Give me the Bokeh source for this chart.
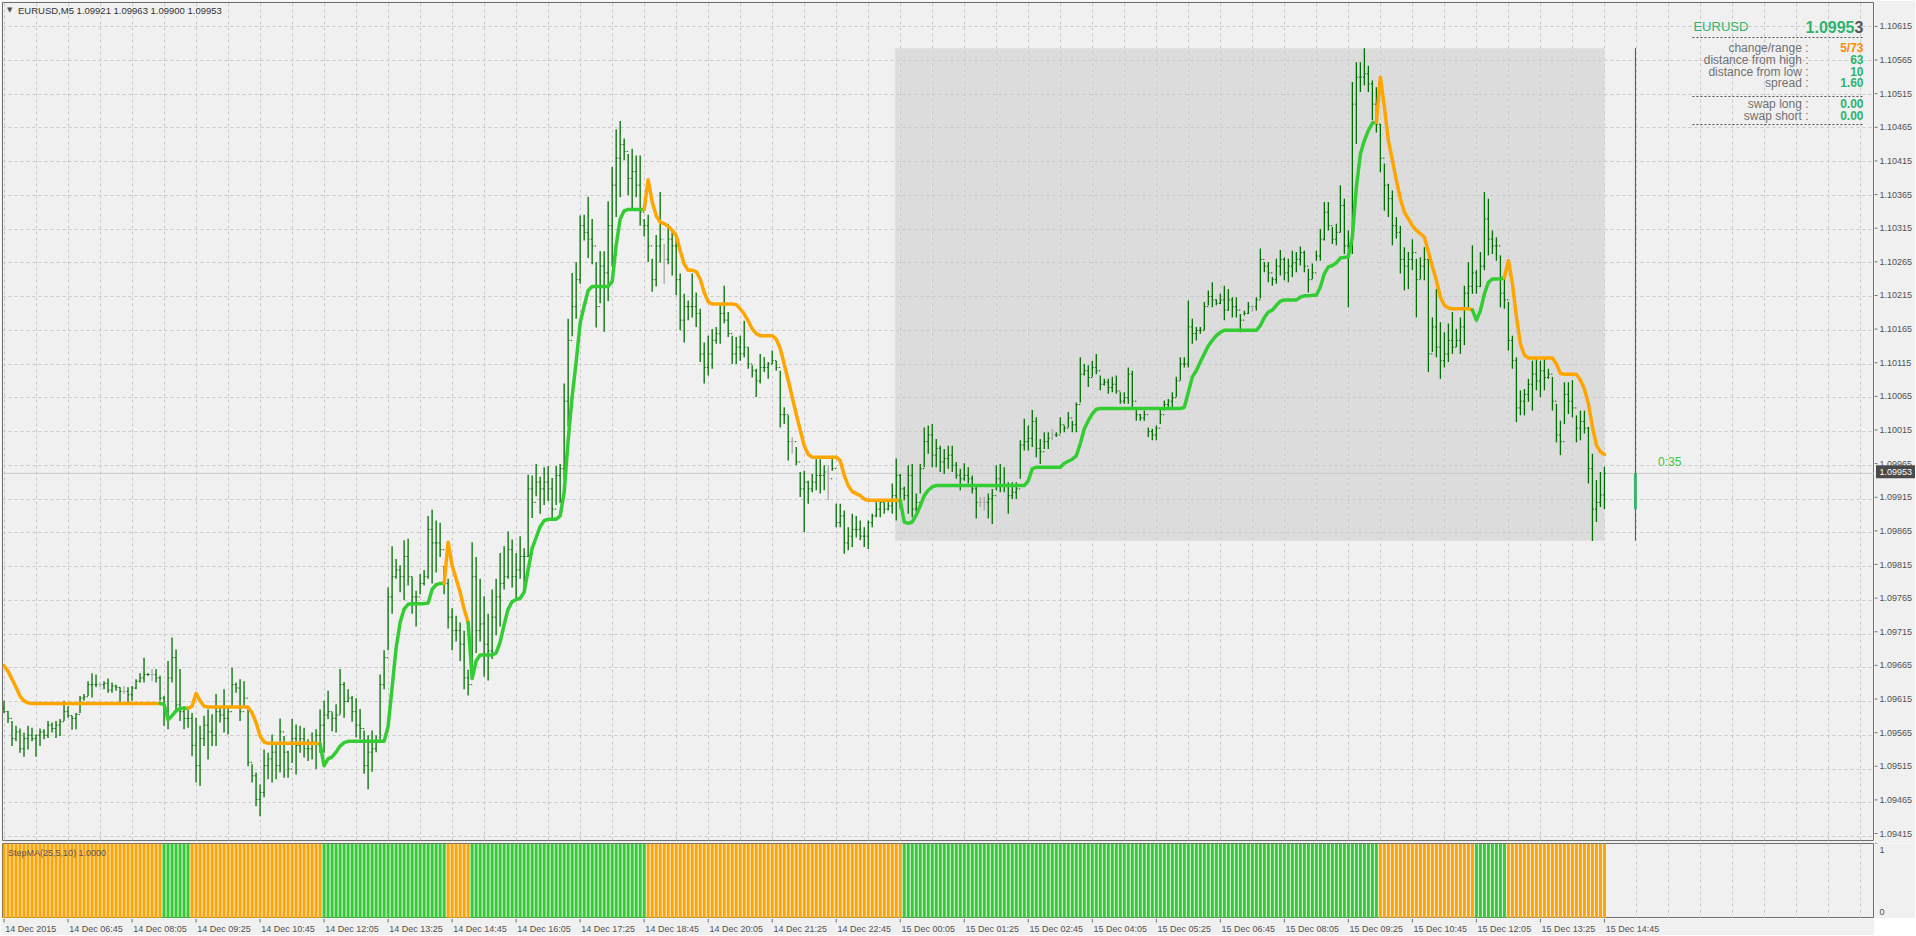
from bokeh.plotting import figure
from bokeh.models import Range1d, FixedTicker, Label, Span, ColumnDataSource
from bokeh.layouts import column, row
from bokeh.embed import file_html
from bokeh.resources import INLINE
from bokeh.core.properties import value

# ---------------- data (prices in points above 1.09000) ----------------
BASE = 1.09
symbol = "EURUSD"
timeframe = "M5"
indicator_name = "StepMA(25,5,10) 1.0000"

bar_high = [
616,601,586,579,575,569,579,576,566,575, 574,586,584,586,589,616,608,594,598,623,
626,645,657,655,643,645,649,643,640,636, 638,636,638,648,657,680,657,663,663,653,
623,675,710,692,663,608,606,598,591,579, 594,603,596,626,608,633,608,665,643,648,
645,608,522,510,492,544,539,566,554,590, 564,542,589,581,579,576,559,569,574,603,
616,631,599,611,663,644,633,623,620,604, 572,565,572,565,655,691,784,845,826,817,
854,856,800,779,804,810,890,899,883,880, 816,797,753,742,732,720,662,851,829,797,
771,745,781,797,835,845,867,855,835,860, 842,951,950,967,948,962,964,946,964,967,
1086,1182,1250,1266,1335,1336,1363,1330,1266,1282, 1282,1356,1407,1463,1475,1449,1426,1434,1424,1424,
1330,1336,1271,1306,1370,1293,1323,1310,1303,1249, 1219,1209,1249,1221,1197,1147,1157,1167,1170,1204,
1231,1192,1157,1155,1157,1179,1140,1113,1108,1130, 1125,1118,1135,1120,1105,1051,1039,1007,992,955,
957,942,952,974,974,965,965,979,908,908, 898,873,893,890,883,873,883,893,913,915,
910,913,938,975,952,933,965,967,923,967, 1021,1024,1026,1004,994,989,994,994,970,960,
968,962,950,933,918,918,923,930,965,967, 962,940,940,940,1002,1034,1024,1047,1036,1004,
1014,1014,1019,1014,1036,1024,1044,1031,1058,1125, 1115,1113,1120,1130,1098,1093,1093,1096,1098,1073,
1073,1110,1105,1049,1041,1046,1021,1019,1024,1049, 1061,1063,1073,1096,1125,1125,1209,1182,1170,1170,
1207,1224,1236,1211,1219,1231,1226,1214,1214,1189, 1194,1207,1202,1214,1286,1266,1266,1244,1271,1284,
1273,1271,1283,1281,1289,1283,1256,1264,1283,1315, 1355,1355,1318,1323,1380,1360,1313,1533,1562,1562,
1583,1557,1535,1525,1471,1412,1382,1372,1333,1320, 1288,1281,1300,1271,1273,1288,1271,1184,1226,1177,
1162,1175,1192,1167,1184,1231,1266,1291,1254,1281, 1370,1360,1313,1303,1276,1244,1207,1157,1125,1076,
1078,1093,1120,1125,1120,1123,1108,1096,1056,1031, 1088,1088,1091,1039,1046,1046,1022,982,943,955,
963]

bar_low = [
598,583,549,556,539,533,544,556,533,549, 559,561,569,561,564,586,591,573,574,598,
616,623,621,636,636,633,628,628,631,613, 626,613,616,633,643,643,653,645,643,616,
579,574,643,598,586,574,576,534,495,490, 549,529,549,549,584,569,566,608,628,586,
608,519,495,460,445,473,500,495,500,510, 502,502,524,507,539,532,527,529,515,539,
539,589,571,569,596,591,614,585,562,559, 508,485,511,540,556,633,691,745,797,777,
765,787,745,726,774,787,797,790,806,829, 774,723,691,704,675,633,624,649,687,704,
652,646,678,713,726,781,797,784,765,797, 777,829,887,919,893,906,912,883,906,909,
944,1022,1156,1182,1234,1298,1272,1263,1169,1205, 1163,1208,1259,1333,1362,1417,1365,1346,1362,1320,
1304,1266,1222,1230,1265,1234,1263,1246,1217,1165, 1147,1180,1184,1170,1118,1086,1098,1108,1145,1145,
1175,1155,1115,1115,1120,1125,1108,1095,1066,1086, 1103,1093,1115,1105,1021,1026,972,982,965,918,
866,908,925,928,923,928,913,957,873,873, 834,839,844,858,854,844,841,873,888,888,
893,898,893,883,900,913,893,888,896,923, 962,982,962,962,955,952,960,955,945,928,
942,938,923,886,903,898,886,878,928,925, 925,893,915,915,945,987,987,992,977,967,
989,989,1002,1007,1012,1014,1021,1014,1014,1058, 1098,1081,1096,1100,1076,1083,1071,1073,1071,1056,
1056,1056,1051,1031,1031,1031,1007,1002,1002,1026, 1046,1051,1051,1066,1091,1110,1110,1145,1150,1160,
1165,1202,1199,1202,1204,1180,1194,1184,1184,1162, 1187,1189,1192,1194,1212,1251,1236,1231,1234,1246,
1239,1236,1244,1251,1261,1251,1221,1241,1268,1268, 1298,1313,1293,1291,1310,1278,1199,1278,1441,1518,
1528,1518,1476,1458,1399,1342,1333,1291,1301,1249, 1224,1226,1254,1184,1241,1239,1103,1133,1125,1093,
1110,1118,1130,1140,1130,1143,1199,1219,1219,1229, 1254,1276,1278,1268,1199,1197,1135,1108,1029,1039,
1039,1059,1046,1076,1066,1076,1093,1046,999,980, 1026,1041,1036,999,1002,1012,938,853,881,903,
900]

bar_close = [
600,590,560,570,545,560,565,560,565,570, 565,580,575,580,585,600,594,590,596,620,
622,640,640,640,640,642,632,638,636,630, 630,625,635,645,650,655,655,655,650,620,
600,650,680,610,600,590,590,550,520,560, 580,570,565,600,595,590,600,640,635,600,
620,525,505,470,480,520,530,540,520,570, 540,515,560,550,560,545,545,555,565,580,
595,600,590,595,640,615,620,600,580,575, 520,540,545,555,640,680,770,800,810,800,
830,800,770,770,790,800,870,850,850,840, 790,740,720,720,700,650,640,800,720,730,
700,690,740,770,790,800,840,800,810,830, 830,930,910,940,930,940,930,900,950,960,
1060,1150,1200,1240,1320,1310,1300,1290,1200,1260, 1250,1320,1380,1420,1440,1430,1390,1400,1380,1340,
1320,1290,1240,1290,1300,1270,1300,1290,1240,1180, 1200,1200,1200,1190,1130,1110,1130,1150,1160,1190,
1180,1160,1130,1140,1130,1140,1115,1105,1090,1110, 1110,1115,1120,1110,1040,1040,1000,1000,970,930,
940,930,940,950,950,955,945,960,880,890, 850,860,870,870,860,860,880,890,900,910,
900,905,920,950,930,920,950,900,910,960, 1000,1010,980,990,970,975,980,965,950,945,
950,945,930,910,910,910,915,920,945,935, 935,920,925,930,995,1000,1005,1030,990,985,
1000,1005,1010,1010,1025,1020,1035,1025,1055,1100, 1105,1095,1110,1105,1085,1088,1080,1085,1075,1060,
1065,1100,1060,1040,1035,1040,1015,1010,1020,1040, 1055,1060,1065,1090,1115,1115,1170,1160,1165,1165,
1200,1215,1210,1205,1210,1195,1210,1200,1195,1180, 1190,1200,1200,1210,1270,1260,1250,1240,1260,1270,
1250,1260,1265,1270,1280,1260,1240,1250,1275,1300, 1340,1320,1300,1310,1350,1290,1290,1500,1540,1540,
1545,1530,1500,1470,1420,1380,1360,1320,1310,1270, 1260,1270,1280,1240,1260,1270,1130,1170,1140,1120,
1130,1150,1140,1150,1170,1220,1230,1250,1230,1260, 1330,1300,1290,1290,1220,1210,1150,1120,1050,1060,
1070,1085,1100,1090,1105,1095,1100,1060,1010,1000, 1070,1060,1050,1020,1030,1020,960,900,910,921,
953]
first_open = 605
flat_bars = [24, 30, 37, 165, 197, 206, 244, 245, 262, 312]

stepma = [
668,660,648,636,623,616,613,612,612,612, 612,612,612,612,612,612,612,612,612,612,
612,612,612,612,612,612,612,612,612,612, 612,612,612,612,612,612,612,612,612,612,
611,588,594,601,605,605,605,608,627,616, 608,607,607,607,607,607,607,607,607,607,
607,607,598,584,564,555,553,553,553,553, 553,553,553,553,553,553,553,553,553,552,
520,530,533,540,549,554,556,556,556,556, 556,556,556,556,556,556,578,636,694,732,
752,759,760,760,760,760,761,781,788,790, 790,851,816,797,777,752,732,649,675,684,
684,684,684,687,703,729,752,763,766,768, 777,810,842,858,874,883,885,885,885,890,
925,1002,1067,1118,1176,1201,1224,1230,1230,1230, 1230,1230,1237,1291,1330,1342,1344,1344,1344,1344,
1344,1388,1355,1335,1325,1323,1319,1313,1305,1283, 1263,1254,1254,1252,1241,1221,1207,1204,1204,1204,
1204,1204,1204,1203,1197,1189,1179,1167,1160,1157, 1157,1157,1157,1152,1138,1115,1091,1066,1041,1017,
994,981,977,977,977,977,977,977,977,972, 950,935,926,923,920,915,913,913,913,913,
913,913,913,913,913,881,879,881,891,905, 920,928,933,935,935,935,935,935,935,935,
935,935,935,935,935,935,935,935,935,935, 935,935,935,935,935,935,942,960,962,962,
962,962,962,962,962,968,971,974,979,997, 1019,1031,1041,1048,1049,1049,1049,1049,1049,1049,
1049,1049,1049,1049,1049,1049,1049,1049,1049,1049, 1049,1049,1049,1049,1049,1051,1073,1096,1105,1118,
1130,1142,1150,1157,1162,1165,1165,1165,1165,1165, 1165,1165,1165,1165,1172,1184,1192,1195,1202,1208,
1210,1210,1210,1210,1214,1216,1216,1217,1217,1229, 1249,1259,1261,1265,1272,1273,1274,1303,1377,1426,
1446,1461,1472,1473,1540,1496,1446,1417,1387,1360, 1340,1330,1320,1313,1308,1303,1281,1259,1239,1214,
1202,1198,1197,1197,1197,1197,1197,1195,1180,1194, 1219,1236,1241,1241,1241,1243,1268,1234,1185,1145,
1128,1124,1124,1124,1124,1124,1124,1124,1115,1101, 1100,1100,1100,1100,1091,1078,1056,1022,995,985,
981]

# trend state of the StepMA, as runs: (state, number of bars)
trend_runs = [("dn", 40), ("up", 7), ("dn", 33), ("up", 31), ("dn", 6), ("up", 44),
              ("dn", 64), ("up", 119), ("dn", 24), ("up", 8), ("dn", 25)]

time_labels = ["14 Dec 2015", "14 Dec 06:45", "14 Dec 08:05", "14 Dec 09:25", "14 Dec 10:45",
               "14 Dec 12:05", "14 Dec 13:25", "14 Dec 14:45", "14 Dec 16:05", "14 Dec 17:25",
               "14 Dec 18:45", "14 Dec 20:05", "14 Dec 21:25", "14 Dec 22:45", "15 Dec 00:05",
               "15 Dec 01:25", "15 Dec 02:45", "15 Dec 04:05", "15 Dec 05:25", "15 Dec 06:45",
               "15 Dec 08:05", "15 Dec 09:25", "15 Dec 10:45", "15 Dec 12:05", "15 Dec 13:25",
               "15 Dec 14:45"]
bars_per_label = 16
bars_per_grid = 8

price_tick_labels = ["1.09415", "1.09465", "1.09515", "1.09565", "1.09615", "1.09665", "1.09715",
                     "1.09765", "1.09815", "1.09865", "1.09915", "1.09965", "1.10015", "1.10065",
                     "1.10115", "1.10165", "1.10215", "1.10265", "1.10315", "1.10365", "1.10415",
                     "1.10465", "1.10515", "1.10565", "1.10615"]
ind_tick_labels = ["0", "1"]

day_start_bar = 223          # 15 Dec 00:00
day_high = 1583
day_low = 853
day_change = 5
spread = "1.60"
swap_long = "0.00"
swap_short = "0.00"
timer_text = "0:35"

# ---------------- checks ----------------
trend = []
for st, cnt in trend_runs:
    trend += [st] * cnt
n = len(bar_close)
lens = [len(bar_high), len(bar_low), len(bar_close), len(stepma), len(trend)]
if len(set(lens)) != 1:
    raise ValueError("length mismatch %s" % lens)


def P(v):
    return BASE + v / 100000.0


idx = list(range(n))
bar_open = [first_open] + bar_close[:-1]

BG = "#F0F0F0"
FRAME = "#6E6E6E"
GRID = "#C8C8C8"
TXT = "#505050"
FONT = "Liberation Sans"
BAR_GREEN = "#006E00"
BAR_GRAY = "#A8A8A8"
ORANGE = "#FFA500"
LIME = "#32CD32"
TCOL = {"dn": ORANGE, "up": LIME}

Y_LO, Y_HI = 1.094091, 1.106506
MAIN_FRAME_H = 838
GAP = 3
x_rng = Range1d(-0.375, 467.5)
y_rng = Range1d(Y_LO, Y_HI)
# the price scale column reaches 3px further down (into the gap) with the same scale
y_rng_side = Range1d(Y_LO - GAP * (Y_HI - Y_LO) / MAIN_FRAME_H, Y_HI)

MAIN_W = 1874
SIDE_W = 41
MAIN_H = 2 + MAIN_FRAME_H + GAP
IND_H = 75
TIME_H = 17


def base_fig(w, h, xr, yr, top=0, left=0, bottom=0, outline=None):
    f = figure(width=w, height=h, x_range=xr, y_range=yr, output_backend="svg",
               toolbar_location=None, x_axis_location=None, y_axis_location=None,
               min_border_left=left, min_border_right=0, min_border_top=top, min_border_bottom=bottom,
               background_fill_color=BG, border_fill_color=BG,
               outline_line_color=outline, outline_line_width=1)
    return f


# ---------------- main price panel ----------------
p = base_fig(MAIN_W, MAIN_H, x_rng, y_rng, top=2, left=2, bottom=GAP, outline=FRAME)
grid_ticks = list(range(0, 468, bars_per_grid))
price_ticks = [float(s) for s in price_tick_labels]
p.xgrid.ticker = FixedTicker(ticks=grid_ticks)
p.ygrid.ticker = FixedTicker(ticks=price_ticks)
for g in (p.xgrid, p.ygrid):
    g.grid_line_color = GRID
    g.grid_line_dash = "3 3"
    g.grid_line_width = 1

# today's range box (behind the grid)
p.quad(left=[day_start_bar - 0.25], right=[n - 1], top=[P(day_high)], bottom=[P(day_low)],
       fill_color="#DCDCDC", line_color=None, level="image")
box_grid = [g for g in grid_ticks if day_start_bar <= g <= n - 1]
p.segment(x0=box_grid, x1=box_grid, y0=[P(day_low)] * len(box_grid), y1=[P(day_high)] * len(box_grid),
          line_color="#FFFFFF", line_dash="3 3", line_width=1, level="underlay")

# bid line
p.add_layout(Span(location=P(bar_close[-1]), dimension="width", line_color="#C8C8C8",
                  line_width=1, level="underlay"))

# OHLC bars
colors = [BAR_GRAY if i in flat_bars else BAR_GREEN for i in idx]
src = ColumnDataSource(dict(
    x=idx, xl=[i - 0.35 for i in idx], xr=[i + 0.35 for i in idx],
    hi=[P(v) for v in bar_high], lo=[P(v) for v in bar_low],
    op=[P(v) for v in bar_open], cl=[P(v) for v in bar_close], c=colors))
p.segment(x0="x", x1="x", y0="lo", y1="hi", line_color="c", line_width=1.3, source=src)
p.segment(x0="xl", x1="x", y0="op", y1="op", line_color="c", line_width=1, source=src)
p.segment(x0="x", x1="xr", y0="cl", y1="cl", line_color="c", line_width=1, source=src)

# StepMA line, coloured by trend
xs, ys, cs = [], [], []
cur = None
for i in range(1, n):
    st = trend[i]
    if st != cur:
        xs.append([i - 1]); ys.append([P(stepma[i - 1])]); cs.append(TCOL[st]); cur = st
    xs[-1].append(i); ys[-1].append(P(stepma[i]))
p.multi_line(xs=xs, ys=ys, line_color=cs, line_width=3.5, line_join="round", line_cap="round")

# day range / candle timer at the right
tb = n - 1 + 7.75
p.segment(x0=[tb], x1=[tb], y0=[P(day_low)], y1=[P(day_high)], line_color="#1E781E", line_width=1)
p.segment(x0=[tb], x1=[tb], y0=[P(bar_low[-1])], y1=[P(bar_close[-1])], line_color="#3CB371", line_width=3)
p.add_layout(Label(x=n - 1 + 13.4, y=P(bar_close[-1] + 17), text=timer_text, text_font=FONT,
                   text_font_size="12px", text_color="#3CC83C", text_baseline="middle", text_align="left"))

# title (top-left)
title_txt = "%s,%s  %.5f %.5f %.5f %.5f" % (symbol, timeframe, P(bar_open[-1]), P(bar_high[-1]),
                                            P(bar_low[-1]), P(bar_close[-1]))
p.add_layout(Label(x=1.45, y=1.10639, text="\u25BC", text_font="DejaVu Sans", text_font_size="7px",
                   text_color=TXT, text_align="center", text_baseline="middle"))
p.add_layout(Label(x=3.5, y=1.10639, text=title_txt, text_font=FONT, text_font_size="9.5px",
                   text_color="#333333", text_align="left", text_baseline="middle"))

# info panel (top-right)
VAL_X = 464.75
LAB_X = 451.0
GREEN_T = "#2EB46E"
last_s = "%.5f" % P(bar_close[-1])
p.add_layout(Label(x=422.25, y=1.10615, text=symbol, text_font=FONT, text_font_size="13px",
                   text_color=GREEN_T, text_align="left", text_baseline="middle"))
p.add_layout(Label(x=VAL_X, y=1.10615, text=last_s[-1], text_font=FONT, text_font_size="16px",
                   text_font_style="bold", text_color="#555555", text_align="right", text_baseline="middle"))
p.add_layout(Label(x=VAL_X - 2.25, y=1.10615, text=last_s[:-1], text_font=FONT, text_font_size="16px",
                   text_font_style="bold", text_color=GREEN_T, text_align="right", text_baseline="middle"))
sep_y = [1.105987, 1.105113, 1.104698]
p.segment(x0=[422.0] * 3, x1=[VAL_X] * 3, y0=sep_y, y1=sep_y, line_color="#505050",
          line_dash="2 2", line_width=1)
rows = [
    ("change/range :", "%d/%d" % (day_change, (day_high - day_low) // 10), "#FF8C00", 1.105839),
    ("distance from high :", "%d" % ((day_high - bar_close[-1]) // 10), GREEN_T, 1.105661),
    ("distance from low :", "%d" % ((bar_close[-1] - day_low) // 10), GREEN_T, 1.105483),
    ("spread :", spread, GREEN_T, 1.105320),
    ("swap long :", swap_long, GREEN_T, 1.105009),
    ("swap short :", swap_short, GREEN_T, 1.104831),
]
for lab, val, col, yy in rows:
    p.add_layout(Label(x=LAB_X, y=yy, text=lab, text_font=FONT, text_font_size="12px",
                       text_color="#707070", text_align="right", text_baseline="middle"))
    p.add_layout(Label(x=VAL_X, y=yy, text=val, text_font=FONT, text_font_size="12px",
                       text_font_style="bold", text_color=col, text_align="right", text_baseline="middle"))

# ---------------- price scale (right of main panel) ----------------
rp = base_fig(SIDE_W, MAIN_H, Range1d(0, SIDE_W), y_rng_side, top=2)
rp.xgrid.visible = False
rp.ygrid.visible = False
rp.segment(x0=[0] * len(price_ticks), x1=[3] * len(price_ticks), y0=price_ticks, y1=price_ticks,
           line_color=FRAME, line_width=1)
rp.text(x=[5] * len(price_ticks), y=price_ticks, text=price_tick_labels, text_font=value(FONT),
        text_font_size="9px", text_color=TXT, text_align="left", text_baseline="middle")
rp.rect(x=[SIDE_W / 2 + 1], y=[P(bar_close[-1])], width=[SIDE_W - 1], height=[13], height_units="screen",
        fill_color="#4A4A4A", line_color=None)
rp.text(x=[5], y=[P(bar_close[-1])], text=[last_s], text_font=value(FONT), text_font_size="9px",
        text_color="#FFFFFF", text_align="left", text_baseline="middle")

# ---------------- indicator panel ----------------
q = base_fig(MAIN_W, IND_H, x_rng, Range1d(0, 1), top=0, left=2, outline=FRAME)
q.xgrid.ticker = FixedTicker(ticks=grid_ticks)
q.xgrid.grid_line_color = GRID
q.xgrid.grid_line_dash = "3 3"
q.ygrid.grid_line_color = None
q.vbar(x=idx, top=1, bottom=0, width=0.75, fill_color=[TCOL[t] for t in trend], line_color=None)
q.add_layout(Label(x=1.0, y=0.87, text=indicator_name, text_font=FONT, text_font_size="9px",
                   text_color="#555555", text_align="left", text_baseline="middle"))

rq = base_fig(SIDE_W, IND_H, Range1d(0, SIDE_W), Range1d(0, 1), top=0)
rq.xgrid.visible = False
rq.ygrid.visible = False
ind_ticks = [float(s) for s in ind_tick_labels]
rq.segment(x0=[0, 0], x1=[3, 3], y0=ind_ticks, y1=ind_ticks, line_color=FRAME, line_width=1)
rq.text(x=[5, 5], y=[0.09, 0.91], text=ind_tick_labels, text_font=value(FONT), text_font_size="9px",
        text_color=TXT, text_align="left", text_baseline="middle")

# ---------------- time scale ----------------
t = base_fig(MAIN_W, TIME_H, x_rng, Range1d(0, TIME_H), top=0, left=2)
t.xgrid.visible = False
t.ygrid.visible = False
label_ticks = [k * bars_per_label for k in range(len(time_labels))]
t.segment(x0=label_ticks, x1=label_ticks, y0=[TIME_H] * len(label_ticks), y1=[TIME_H - 4] * len(label_ticks),
          line_color=FRAME, line_width=1)
t.text(x=[v + 0.3 for v in label_ticks], y=[7] * len(label_ticks), text=time_labels, text_font=value(FONT),
       text_font_size="9px", text_color=TXT, text_align="left", text_baseline="middle")

layout = column(row(p, rp, spacing=0), row(q, rq, spacing=0), t, spacing=0)
open("out.html", "w").write(file_html(layout, INLINE))
